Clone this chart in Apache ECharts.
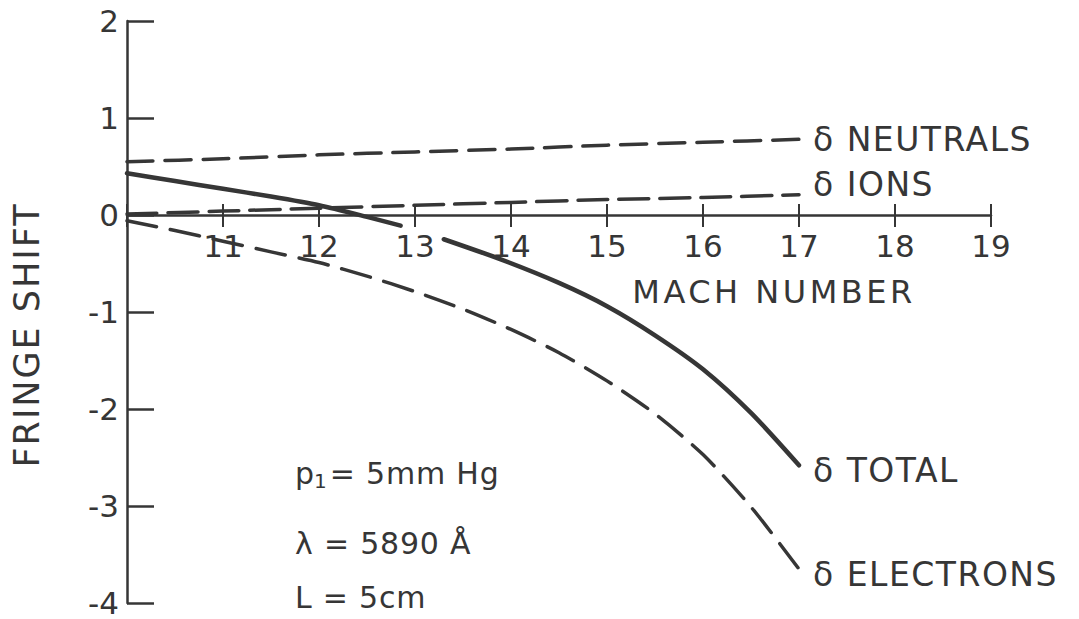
<!DOCTYPE html>
<html>
<head>
<meta charset="utf-8">
<script src="https://cdn.jsdelivr.net/npm/echarts@6/dist/echarts.min.js"></script>
<style>
  html, body { margin: 0; padding: 0; background: #ffffff; }
  #chart { width: 1079px; height: 619px; }
</style>
</head>
<body>
<div id="chart"></div>
<script>
// Fringe shift contributions versus shock Mach number
const xTicks = [10, 11, 12, 13, 14, 15, 16, 17, 18, 19];
const yTicks = [-4, -3, -2, -1, 0, 1, 2];

const neutralsX = [10, 11, 12, 13, 14, 15, 16, 17];
const neutralsY = [0.55, 0.58, 0.62, 0.65, 0.68, 0.72, 0.75, 0.78];

const ionsX = [10, 11, 12, 13, 14, 15, 16, 17];
const ionsY = [0.01, 0.04, 0.07, 0.10, 0.13, 0.16, 0.18, 0.21];

// total curve is interrupted around the "13" label
const totalX = [10, 10.5, 11, 11.5, 12, 12.5, 12.85, 13.05, 13.3, 13.9, 14.5, 15, 15.5, 16, 16.5, 17];
const totalY = [0.43, 0.35, 0.27, 0.19, 0.10, -0.02, -0.11, null, -0.25, -0.46, -0.70, -0.94, -1.24, -1.59, -2.04, -2.58];

const electronsX = [10, 10.5, 11, 11.5, 12, 12.5, 13, 13.5, 14, 14.5, 15, 15.5, 16, 16.5, 17];
const electronsY = [-0.06, -0.16, -0.27, -0.38, -0.49, -0.63, -0.79, -0.97, -1.18, -1.42, -1.71, -2.05, -2.47, -3.01, -3.65];

const seriesNames = ['δ NEUTRALS', 'δ IONS', 'δ TOTAL', 'δ ELECTRONS'];
const xAxisTitle = 'MACH NUMBER';
const yAxisTitle = 'FRINGE SHIFT';
const conditions = ['= 5mm Hg', 'λ = 5890 Å', 'L = 5cm'];

const INK = '#363636';
const FONT = 'DejaVu Sans';

// plot box
const PLOT = { left: 127, right: 88, top: 21, bottom: 16 };
const PLOT_H = 619 - PLOT.top - PLOT.bottom;
const yMin = yTicks[0], yMax = yTicks[yTicks.length - 1];
// height of the band above the zero line, where the Mach-number scale sits
const upperH = PLOT_H * (yMax - 0) / (yMax - yMin);

function pairs(xs, ys) {
  return xs.map((x, i) => [x, ys[i]]);
}

function curve(name, xs, ys, dash, width, labelDy) {
  return {
    name: name,
    type: 'line',
    data: pairs(xs, ys),
    showSymbol: false,
    smooth: 0.25,
    connectNulls: false,
    xAxisIndex: 0,
    yAxisIndex: 0,
    lineStyle: { color: INK, width: width, type: dash, cap: 'round', join: 'round' },
    endLabel: {
      show: true,
      formatter: name,
      color: INK,
      fontFamily: FONT,
      fontSize: 33,
      distance: 14,
      offset: [0, labelDy]
    },
    z: 3
  };
}

const chart = echarts.init(document.getElementById('chart'), null, { renderer: 'svg' });

chart.setOption({
  animation: false,
  backgroundColor: '#ffffff',
  grid: [
    Object.assign({ outerBoundsMode: 'none', containLabel: false }, PLOT),
    // band whose bottom edge is the zero line: carries tick labels and upward ticks
    { left: PLOT.left, right: PLOT.right, top: PLOT.top, height: upperH, outerBoundsMode: 'none', containLabel: false }
  ],
  xAxis: [
    {
      gridIndex: 0,
      type: 'value',
      min: xTicks[0],
      max: xTicks[xTicks.length - 1],
      interval: 1,
      axisLine: { show: true, onZero: true, lineStyle: { color: INK, width: 2.5 } },
      axisTick: { show: true, inside: false, length: 12, lineStyle: { color: INK, width: 2 } },
      axisLabel: { show: false },
      splitLine: { show: false }
    },
    {
      gridIndex: 1,
      type: 'value',
      min: xTicks[0],
      max: xTicks[xTicks.length - 1],
      interval: 1,
      position: 'bottom',
      axisLine: { show: false, onZero: false },
      axisTick: { show: true, inside: true, length: 11, lineStyle: { color: INK, width: 2 } },
      axisLabel: {
        color: INK, fontFamily: FONT, fontSize: 31, margin: 15,
        formatter: v => (v === xTicks[0] ? '' : String(v))
      },
      splitLine: { show: false }
    }
  ],
  yAxis: [
    {
      gridIndex: 0,
      type: 'value',
      min: yMin,
      max: yMax,
      interval: 1,
      axisLine: { show: true, onZero: false, lineStyle: { color: INK, width: 2.5 } },
      axisTick: { show: true, inside: true, length: 27, lineStyle: { color: INK, width: 2.5 } },
      axisLabel: { color: INK, fontFamily: FONT, fontSize: 31, lineHeight: 26, margin: 8 },
      splitLine: { show: false }
    },
    {
      gridIndex: 1,
      type: 'value',
      min: 0,
      max: yMax,
      show: false
    }
  ],
  series: [
    curve(seriesNames[0], neutralsX, neutralsY, [26, 12], 3.5, 0),
    curve(seriesNames[1], ionsX, ionsY, [30, 11], 3.5, -10),
    curve(seriesNames[2], totalX, totalY, 'solid', 4.5, 5),
    curve(seriesNames[3], electronsX, electronsY, [30, 14], 3.5, 5)
  ],
  graphic: [
    {
      type: 'text',
      x: 27, y: 335,
      rotation: Math.PI / 2,
      style: {
        text: yAxisTitle, fill: INK, font: '35px "' + FONT + '"',
        align: 'center', verticalAlign: 'middle'
      }
    },
    {
      type: 'text',
      x: 774, y: 292,
      style: {
        text: xAxisTitle, fill: INK, font: '32px "' + FONT + '"',
        align: 'center', verticalAlign: 'middle'
      }
    },
    {
      type: 'text',
      x: 295, y: 473,
      style: {
        text: '{p|p}{s|1}{t|' + conditions[0] + '}',
        verticalAlign: 'middle',
        rich: {
          p: { fill: INK, fontFamily: FONT, fontSize: 30 },
          s: { fill: INK, fontFamily: FONT, fontSize: 20, padding: [16, 3, 0, 0] },
          t: { fill: INK, fontFamily: FONT, fontSize: 30 }
        }
      }
    },
    {
      type: 'text',
      x: 295, y: 543,
      style: { text: conditions[1], fill: INK, font: '30px "' + FONT + '"', verticalAlign: 'middle' }
    },
    {
      type: 'text',
      x: 295, y: 597,
      style: { text: conditions[2], fill: INK, font: '30px "' + FONT + '"', verticalAlign: 'middle', lineHeight: 28 }
    }
  ]
});

// Lettering is widely spaced; loosen tracking on word labels
function loosenLettering() {
  const spacing = {};
  spacing[xAxisTitle] = '3.5px';
  spacing[yAxisTitle] = '2px';
  document.querySelectorAll('#chart svg text').forEach(t => {
    const s = t.textContent || '';
    if (!/[A-Za-zδλÅ]/.test(s)) return;
    let ls = '1.5px';
    if (spacing[s]) ls = spacing[s];
    else if (s.indexOf('=') >= 0) ls = '0.8px';
    t.style.letterSpacing = ls;
  });
}
loosenLettering();
chart.on('finished', loosenLettering);
</script>
</body>
</html>
